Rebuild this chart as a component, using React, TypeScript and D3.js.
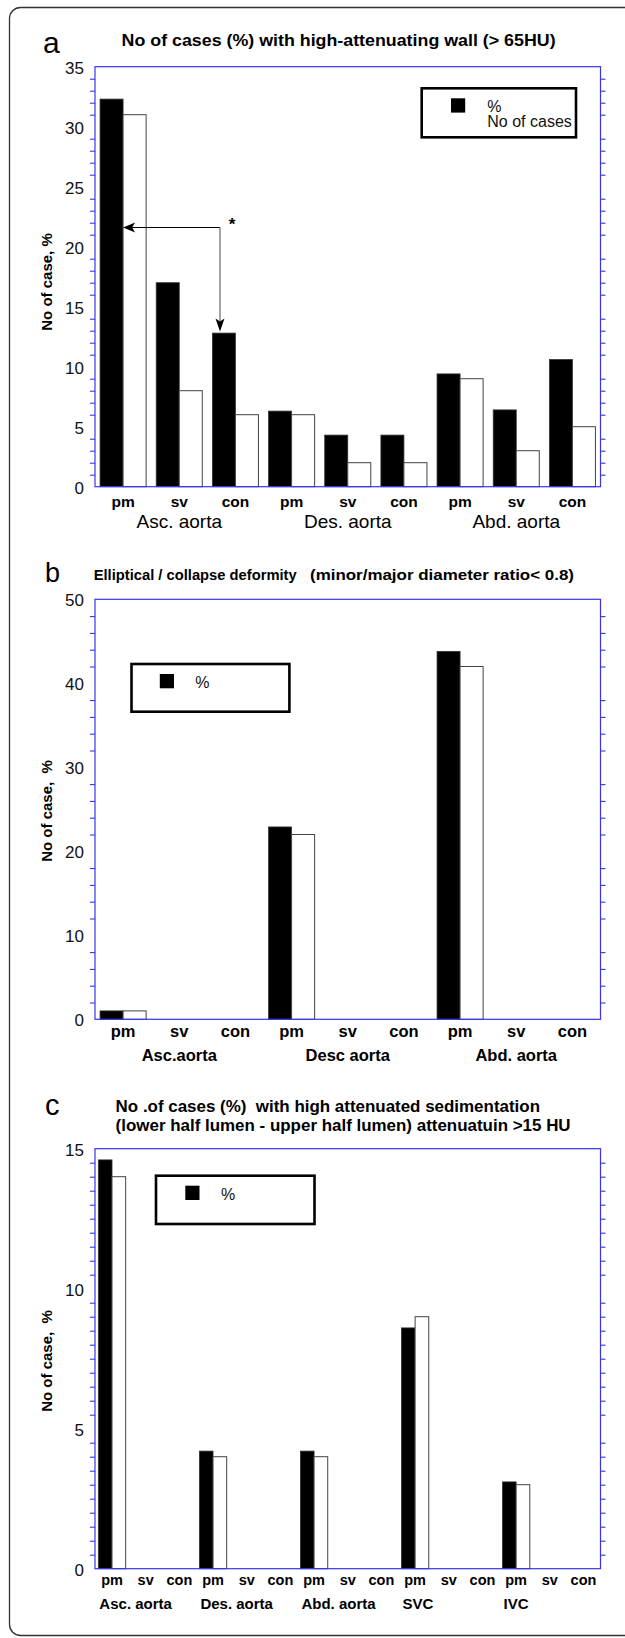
import React, { useRef, useEffect } from 'react';
import * as d3 from 'd3';

const W = 625;
const H = 1638;
const FONT = "'Liberation Sans', Arial, Helvetica, sans-serif";
const BLUE = '#3636ee';
const X0 = 95;
const X1 = 600.5;

// panel a: high-attenuating wall
const subLabelsA = ['pm', 'sv', 'con', 'pm', 'sv', 'con', 'pm', 'sv', 'con'];
const groupsA = ['Asc. aorta', 'Des. aorta', 'Abd. aorta'];
const pctA = [32.3, 17.0, 12.8, 6.3, 4.3, 4.3, 9.4, 6.4, 10.6];
const casesA = [31, 8, 6, 6, 2, 2, 9, 3, 5];
const arrowLevelA = 21.6;

// panel b: elliptical / collapse deformity
const subLabelsB = ['pm', 'sv', 'con', 'pm', 'sv', 'con', 'pm', 'sv', 'con'];
const groupsB = ['Asc.aorta', 'Desc aorta', 'Abd. aorta'];
const pctB = [1, 0, 0, 22.9, 0, 0, 43.8, 0, 0];
const casesB = [1, 0, 0, 22, 0, 0, 42, 0, 0];

// panel c: high attenuated sedimentation
const subLabelsC = ['pm', 'sv', 'con', 'pm', 'sv', 'con', 'pm', 'sv', 'con', 'pm', 'sv', 'con', 'pm', 'sv', 'con'];
const groupsC = ['Asc. aorta', 'Des. aorta', 'Abd. aorta', 'SVC', 'IVC'];
const pctC = [14.6, 0, 0, 4.2, 0, 0, 4.2, 0, 0, 8.6, 0, 0, 3.1, 0, 0];
const casesC = [14, 0, 0, 4, 0, 0, 4, 0, 0, 9, 0, 0, 3, 0, 0];

const panels = [
  {
    subs: subLabelsA, groups: groupsA, pct: pctA, cases: casesA,
    top: 66.7, bottom: 486.7, yMax: 35, minor: 1, major: 5,
    padIn: 0.18, padOut: 0.09, subSize: 15.5, subY: 20, groupY: 41.6,
    groupSize: 19, groupWeight: 'normal', groupAlign: 'middle',
    ylabCenter: 282, ylab: 'No of case, %',
    legend: { x: 421.7, y: 88.3, w: 154.3, h: 49, sqx: 451, sqy: 98.3, tx: 487.3, ty: 111.7, lines: ['%', 'No of cases'] },
  },
  {
    subs: subLabelsB, groups: groupsB, pct: pctB, cases: casesB,
    top: 599.3, bottom: 1019.3, yMax: 50, minor: 2, major: 10,
    padIn: 0.18, padOut: 0.09, subSize: 16.5, subY: 17.4, groupY: 41.7,
    groupSize: 16.5, groupWeight: 'bold', groupAlign: 'middle',
    ylabCenter: 811, ylab: 'No of case,  %',
    legend: { x: 131.5, y: 664, w: 157.9, h: 47.7, sqx: 159.8, sqy: 674, tx: 195.3, ty: 687.5, lines: ['%'] },
  },
  {
    subs: subLabelsC, groups: groupsC, pct: pctC, cases: casesC,
    top: 1148.7, bottom: 1568.7, yMax: 15, minor: 0.5, major: 5,
    padIn: 0.19, padOut: 0.1, subSize: 14.5, subY: 16.3, groupY: 40.3,
    groupSize: 15, groupWeight: 'bold', groupAlign: 'start',
    ylabCenter: 1361, ylab: 'No of case,  %',
    legend: { x: 156, y: 1175.7, w: 158.5, h: 48.3, sqx: 185.3, sqy: 1185.7, tx: 221, ty: 1199.5, lines: ['%'] },
  },
];

function drawPanel(svg, p) {
  const n = p.subs.length;
  const x = d3.scaleBand()
    .domain(d3.range(n).map(String))
    .range([X0, X1])
    .paddingInner(p.padIn)
    .paddingOuter(p.padOut);
  const sub = d3.scaleBand().domain(['pct', 'cases']).range([0, x.bandwidth()]);
  const y = d3.scaleLinear().domain([0, p.yMax]).range([p.bottom, p.top]);

  const g = svg.append('g');

  // bars
  const rows = d3.range(n).filter(i => p.pct[i] > 0 || p.cases[i] > 0);
  rows.forEach(i => {
    if (p.pct[i] > 0) {
      g.append('rect')
        .attr('x', x(String(i)) + sub('pct'))
        .attr('y', y(p.pct[i]))
        .attr('width', sub.bandwidth())
        .attr('height', y(0) - y(p.pct[i]))
        .attr('fill', '#000')
        .attr('stroke', '#333')
        .attr('stroke-width', 0.8);
    }
    if (p.cases[i] > 0) {
      g.append('rect')
        .attr('x', x(String(i)) + sub('cases'))
        .attr('y', y(p.cases[i]))
        .attr('width', sub.bandwidth())
        .attr('height', y(0) - y(p.cases[i]))
        .attr('fill', '#fff')
        .attr('stroke', '#444')
        .attr('stroke-width', 1);
    }
  });

  // plot box
  g.append('rect')
    .attr('x', X0).attr('y', p.top)
    .attr('width', X1 - X0).attr('height', p.bottom - p.top)
    .attr('fill', 'none').attr('stroke', BLUE).attr('stroke-width', 1.2);

  const minorTicks = d3.range(0, p.yMax + 1e-6, p.minor)
    .filter(v => Math.abs(v / p.major - Math.round(v / p.major)) > 1e-6);
  const majorTicks = d3.range(0, p.yMax + 1e-6, p.major);

  const left = g.append('g').call(d3.axisLeft(y).tickValues(minorTicks).tickSize(5).tickSizeOuter(0).tickFormat(() => ''))
    .attr('transform', `translate(${X0},0)`);
  const right = g.append('g').call(d3.axisRight(y).tickValues(minorTicks).tickSize(5).tickSizeOuter(0).tickFormat(() => ''))
    .attr('transform', `translate(${X1},0)`);
  [left, right].forEach(a => {
    a.select('.domain').remove();
    a.selectAll('line').attr('stroke', BLUE).attr('stroke-width', 1.1);
  });

  const labels = g.append('g').attr('transform', `translate(${X0},0)`)
    .call(d3.axisLeft(y).tickValues(majorTicks).tickSize(0).tickPadding(11).tickFormat(d3.format('d')));
  labels.select('.domain').remove();
  labels.selectAll('text')
    .attr('font-family', FONT).attr('font-size', 17).attr('fill', '#111').attr('dy', '0.38em');

  // x category labels
  d3.range(n).forEach(i => {
    g.append('text')
      .attr('x', x(String(i)) + x.bandwidth() / 2)
      .attr('y', p.bottom + p.subY)
      .attr('text-anchor', 'middle')
      .attr('font-family', FONT).attr('font-weight', 'bold').attr('font-size', p.subSize)
      .text(p.subs[i]);
  });

  const per = n / p.groups.length;
  p.groups.forEach((name, k) => {
    const first = x(String(k * per));
    const last = x(String(k * per + per - 1)) + x.bandwidth();
    const t = g.append('text')
      .attr('y', p.bottom + p.groupY)
      .attr('font-family', FONT).attr('font-weight', p.groupWeight).attr('font-size', p.groupSize)
      .text(name);
    if (p.groupAlign === 'middle') {
      t.attr('x', (first + last) / 2).attr('text-anchor', 'middle');
    } else {
      t.attr('x', first + 1).attr('text-anchor', 'start');
    }
  });

  // y label
  g.append('text')
    .attr('transform', `translate(51.5,${p.ylabCenter}) rotate(-90)`)
    .attr('text-anchor', 'middle')
    .attr('font-family', FONT).attr('font-weight', 'bold').attr('font-size', 15)
    .style('white-space', 'pre')
    .text(p.ylab);

  // legend
  const L = p.legend;
  g.append('rect')
    .attr('x', L.x).attr('y', L.y).attr('width', L.w).attr('height', L.h)
    .attr('fill', '#fff').attr('stroke', '#000').attr('stroke-width', 2.6);
  g.append('rect')
    .attr('x', L.sqx).attr('y', L.sqy).attr('width', 14.2).attr('height', 14.3)
    .attr('fill', '#000');
  L.lines.forEach((s, j) => {
    g.append('text')
      .attr('x', L.tx).attr('y', L.ty + j * 15)
      .attr('font-family', FONT).attr('font-size', 16).attr('fill', '#111')
      .text(s);
  });

  return { x, y, sub };
}

function App() {
  const ref = useRef(null);

  useEffect(() => {
    const svg = d3.select(ref.current);
    ref.current.querySelectorAll('*').forEach(n => n.remove());

    svg.append('rect').attr('width', W).attr('height', H).attr('fill', '#fff');

    // outer frame, cut off at the right edge
    svg.append('rect')
      .attr('x', 9.5).attr('y', 7.5).attr('width', 660).attr('height', 1628)
      .attr('rx', 11).attr('fill', 'none').attr('stroke', '#333').attr('stroke-width', 1.3);

    const scales = panels.map(p => drawPanel(svg, p));

    // panel letters and titles
    const letter = (s, xx, yy, size) => svg.append('text')
      .attr('x', xx).attr('y', yy).attr('font-family', FONT).attr('font-size', size).text(s);
    letter('a', 43, 52.7, 30);
    letter('b', 45, 581.7, 27);
    letter('c', 45, 1114.5, 29);

    const title = (s, xx, yy, size, len) => svg.append('text')
      .attr('x', xx).attr('y', yy).attr('font-family', FONT).attr('font-weight', 'bold')
      .attr('font-size', size).attr('textLength', len).attr('lengthAdjust', 'spacingAndGlyphs')
      .style('white-space', 'pre')
      .text(s);
    title('No of cases (%) with high-attenuating wall (> 65HU)', 121.6, 45.7, 17, 434);
    title('Elliptical / collapse deformity', 93.7, 580, 14.5, 203);
    title('(minor/major diameter ratio< 0.8)', 310, 580, 14.5, 264);
    title('No .of cases (%)  with high attenuated sedimentation', 115.6, 1112.3, 17, 424.4);
    title('(lower half lumen - upper half lumen) attenuatuin >15 HU', 115.6, 1131, 17, 455);

    // significance arrow in panel a: Asc pm -> Asc con
    const { x, y, sub } = scales[0];
    const ax0 = x('0') + sub('pct') + sub.bandwidth();
    const ax1 = x('2') + sub('pct') + sub.bandwidth() * 0.33;
    const ay = y(arrowLevelA);
    const ay1 = y(pctA[2]) - 1.5;
    svg.append('line').attr('x1', ax0 + 6).attr('y1', ay).attr('x2', ax1).attr('y2', ay)
      .attr('stroke', '#000').attr('stroke-width', 1.2);
    svg.append('line').attr('x1', ax1).attr('y1', ay).attr('x2', ax1).attr('y2', ay1 - 6)
      .attr('stroke', '#666').attr('stroke-width', 1.2);
    svg.append('path')
      .attr('d', `M${ax0},${ay} L${ax0 + 12},${ay - 5} L${ax0 + 9},${ay} L${ax0 + 12},${ay + 5} Z`)
      .attr('fill', '#000');
    svg.append('path')
      .attr('d', `M${ax1},${ay1} L${ax1 - 4.5},${ay1 - 13} L${ax1},${ay1 - 10} L${ax1 + 4.5},${ay1 - 13} Z`)
      .attr('fill', '#000');
    svg.append('text')
      .attr('x', ax1 + 12).attr('y', ay + 2)
      .attr('text-anchor', 'middle')
      .attr('font-family', FONT).attr('font-weight', 'bold').attr('font-size', 17)
      .text('*');
  }, []);

  return (
    <svg
      ref={ref}
      width={W}
      height={H}
      style={{ position: 'absolute', left: 0, top: 0, display: 'block' }}
    />
  );
}

export default App;
